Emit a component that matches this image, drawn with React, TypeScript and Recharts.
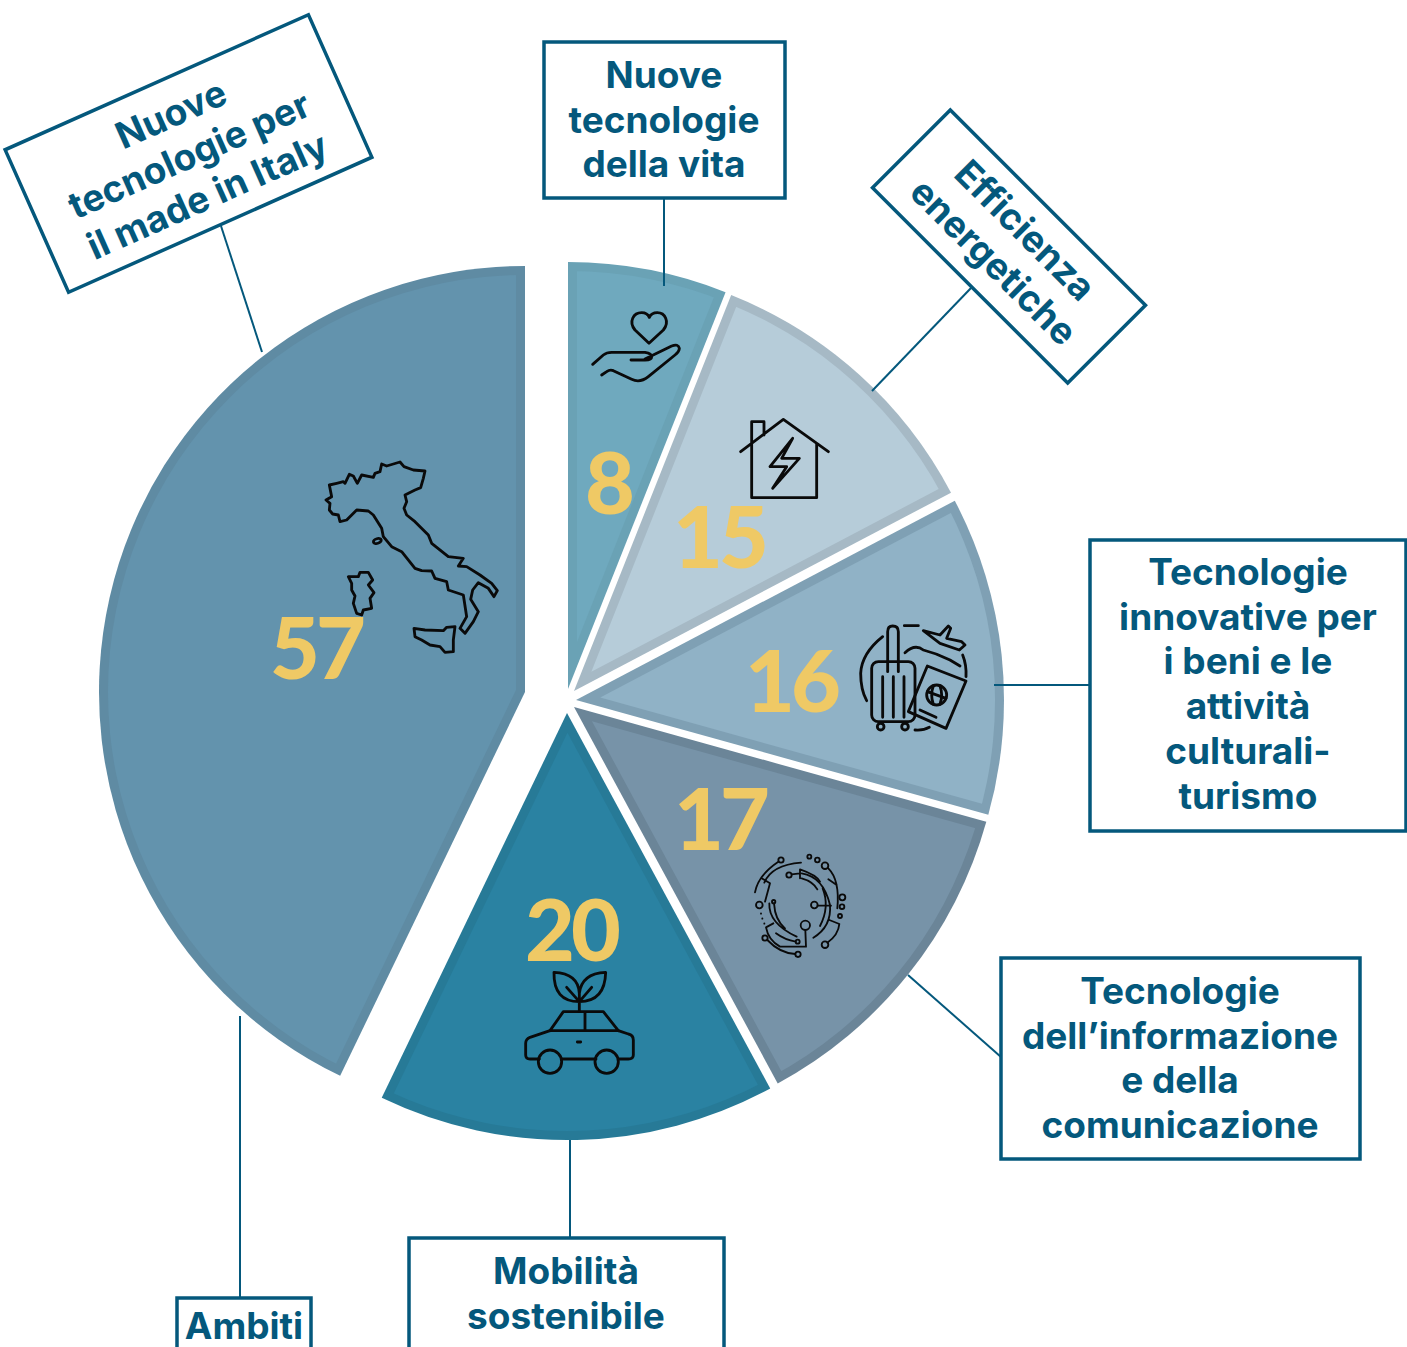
import { PieChart, Pie, Sector } from 'recharts'

const sliceNames = [
  'Nuove tecnologie della vita',
  'Efficienza energetiche',
  'Tecnologie innovative per i beni e le attività culturali-turismo',
  "Tecnologie dell’informazione e della comunicazione",
  'Mobilità sostenibile',
  'Nuove tecnologie per il made in Italy',
]
const sliceValues = [8, 15, 16, 17, 20, 57]
const sliceFills = ['#6FA9BE', '#B6CCD9', '#90B2C6', '#7793A8', '#2A82A2', '#6393AD']
const sliceEdges = ['#6AA2B5', '#A6B9C5', '#7FA0B4', '#6B8598', '#277A97', '#5F8BA3']

// exploded slices: where each one's apex sits and how big it is
const sliceCenters = [
  [568, 689],
  [574, 691],
  [576, 700],
  [574, 707],
  [567, 713],
  [525, 692],
]
const sliceRadius = [427, 426, 428, 428, 427, 426]
const valueSpots = [
  [608, 514],
  [719, 568],
  [791, 712],
  [720, 850],
  [571, 961],
  [316, 679],
]

const pieData = sliceNames.map((name, i) => ({
  name,
  value: sliceValues[i],
  fill: sliceFills[i],
}))

const INK = '#04587C'
const LABEL_FONT = 'Inter, sans-serif'
const BAND = 9

function SliceShape(props: any) {
  const i = sliceNames.indexOf(props.name)
  const [cx, cy] = sliceCenters[i]
  const R = sliceRadius[i]
  const half = (props.startAngle - props.endAngle) / 2
  const mid = ((props.startAngle + props.endAngle) / 2) * (Math.PI / 180)
  const inset = BAND / Math.sin((half * Math.PI) / 180)
  const clipId = `slice-clip-${i}`
  return (
    <g>
      <clipPath id={clipId}>
        <circle cx={cx} cy={cy} r={R - BAND} />
      </clipPath>
      <Sector {...props} cx={cx} cy={cy} outerRadius={R} fill={sliceEdges[i]} stroke="none" />
      <g clipPath={`url(#${clipId})`}>
        <Sector
          {...props}
          cx={cx + inset * Math.cos(mid)}
          cy={cy - inset * Math.sin(mid)}
          outerRadius={R}
          fill={sliceFills[i]}
          stroke="none"
        />
      </g>
    </g>
  )
}

function ValueLabel(props: any) {
  const i = sliceNames.indexOf(props.name)
  return (
    <text
      x={valueSpots[i][0]}
      y={valueSpots[i][1]}
      textAnchor="middle"
      fontFamily="Lato, sans-serif"
      fontWeight={900}
      fontSize={86}
      letterSpacing={-4}
      fill="#EFC965"
    >
      {sliceValues[i]}
    </text>
  )
}

function Lines({ lines, x, y, size = 37 }: { lines: string[]; x: number; y: number; size?: number }) {
  return (
    <text x={x} y={y} textAnchor="middle" fontFamily={LABEL_FONT} fontWeight={700} fontSize={size} fill={INK}>
      {lines.map((line, i) => (
        <tspan key={line} x={x} dy={i === 0 ? 0 : 44.7}>
          {line}
        </tspan>
      ))}
    </text>
  )
}

function Icon({ x, y, k = 1 / 3, w = 8.5, children }: any) {
  return (
    <g
      transform={`translate(${x},${y}) scale(${k})`}
      fill="none"
      stroke="#0A0A0A"
      strokeWidth={w}
      strokeLinecap="round"
      strokeLinejoin="round"
    >
      {children}
    </g>
  )
}

function ItalyIcon() {
  return (
    <Icon x={300} y={440}>
      <path d="M98,222 L88,210 L90,190 L78,180 L95,170 L88,135 L110,130 L130,125 L135,130 L148,103 L160,108 L172,130 L185,105 L220,112 L225,100 L240,95 L245,72 L260,78 L300,66 L312,80 L340,90 L375,93 L370,115 L362,143 L345,150 L315,165 L320,185 L312,205 L320,225 L345,245 L385,285 L395,310 L445,350 L490,355 L475,378 L500,380 L540,405 L575,430 L592,452 L582,470 L565,445 L535,428 L518,450 L512,478 L535,515 L520,545 L495,580 L480,565 L500,530 L490,465 L445,450 L440,425 L405,415 L395,393 L365,392 L345,385 L305,335 L275,320 L250,290 L245,265 L220,225 L205,213 L170,210 L140,240 L120,245 L115,225 Z" />
      <ellipse cx={232} cy={303} rx={12} ry={7} transform="rotate(-15 232 303)" />
      <path d="M145,410 L175,410 L180,397 L205,397 L218,420 L205,435 L222,458 L210,475 L215,505 L190,510 L185,525 L170,520 L160,490 L165,468 L155,450 L155,430 Z" />
      <path d="M342,565 L375,570 L430,572 L440,562 L465,560 L460,600 L460,635 L435,637 L420,620 L390,615 L365,600 L345,590 Z" />
    </Icon>
  )
}

function HandIcon() {
  return (
    <Icon x={570} y={260}>
      <path d="M237,250 L195,210 C175,185 190,158 215,158 C228,158 235,165 238,172 C241,165 250,158 262,158 C285,158 300,185 280,210 Z" />
      <path d="M68,313 L100,285 Q110,277 125,277 L225,277 Q245,280 245,290 Q245,300 225,300 L183,300 M225,297 L305,258 Q325,250 328,265 Q328,275 315,285 L235,350 Q210,370 185,358 L130,332 Q120,328 110,335 L95,345" />
    </Icon>
  )
}

function HouseIcon() {
  return (
    <Icon x={570} y={260}>
      <path d="M512,575 L640,478 L775,575 M545,545 V485 H582 V525 M545,545 V713 H740 V550" />
      <path d="M668,535 L600,620 L650,620 L608,685 L688,595 L635,595 Z" />
    </Icon>
  )
}

function TravelIcon() {
  return (
    <Icon x={840} y={610}>
      <rect x={95} y={155} width={130} height={180} rx={20} />
      <path d="M143,185 V65 Q143,48 158,48 Q175,48 175,65 V185 M128,200 V322 M160,200 V322 M192,200 V322" />
      <circle cx={122} cy={350} r={10} />
      <circle cx={195} cy={350} r={10} />
      <path d="M128,80 Q65,130 62,190 Q62,240 80,272 M193,47 L235,47" />
      <path d="M250,62 L300,75 L325,48 L332,55 L320,85 L365,95 L375,105 L358,120 L300,100 Z" />
      <path d="M195,128 Q225,100 250,120 Q290,130 330,150 L360,168 M368,135 Q380,165 378,200" />
      <path d="M262,168 L378,213 L318,355 L205,305 Z" />
      <circle cx={290} cy={255} r={30} />
      <path d="M262,245 L318,265 M280,228 Q270,255 280,283 M300,228 Q310,255 300,283 M240,300 L288,322 M225,360 Q250,362 268,352" />
    </Icon>
  )
}

function CircuitIcon() {
  const dots = [
    [153, 60, 8], [88, 195, 10], [177, 105, 8], [253, 195, 10], [285, 77, 10], [262, 60, 7],
    [238, 50, 6], [337, 172, 9], [336, 200, 7], [330, 228, 6], [285, 314, 10], [226, 256, 14],
    [203, 305, 6], [131, 185, 5], [105, 294, 8], [204, 343, 8],
  ]
  return (
    <Icon x={730} y={840} w={5.5}>
      <path d="M75,157 Q85,105 145,65 M95,115 L120,130 L105,185 M103,128 Q125,75 213,68" />
      <path d="M185,103 L210,100 M210,88 V115 M210,88 Q260,105 270,125 M215,115 Q250,125 262,148" />
      <path d="M215,100 Q280,110 300,195 Q305,260 250,293 M278,145 Q300,200 270,258 M263,197 L303,197" />
      <path d="M295,118 L320,135 M295,85 Q330,120 322,205 M298,240 L328,252 Q325,285 292,308" />
      <path d="M226,270 L228,320 L150,320 Q115,300 108,262 L130,250" />
      <path d="M118,190 Q115,250 200,290 M132,190 Q135,240 165,265 M138,280 Q165,300 197,305 M112,300 Q150,340 196,342" />
      <path d="M93,220 L93,221 M97,235 L97,236 M103,250 L103,251" />
      {dots.map(([cx, cy, r]) => (
        <circle key={`${cx}-${cy}`} cx={cx} cy={cy} r={r} />
      ))}
    </Icon>
  )
}

function CarIcon() {
  return (
    <Icon x={510} y={960}>
      <path d="M120,212 L160,155 L280,155 L325,212 M120,212 L325,212 M225,155 V212" />
      <path d="M120,212 L60,232 Q47,238 47,250 V285 Q47,297 60,297 H88 M155,297 H258 M325,297 H355 Q370,297 370,285 V240 Q370,225 355,222 L325,212" />
      <circle cx={120} cy={305} r={35} />
      <circle cx={290} cy={305} r={35} />
      <path d="M202,246 L212,246" />
      <path d="M208,155 V100 M208,125 Q130,125 132,37 Q205,40 208,100 M208,125 Q285,125 287,37 Q215,40 208,100 M170,82 L208,125 M245,82 L208,125" />
    </Icon>
  )
}

const boxStyle = { fill: '#FFFFFF', stroke: INK, strokeWidth: 3.5 }
const leaderStyle = { stroke: INK, strokeWidth: 2 }

export default function App() {
  return (
    <div style={{ position: 'absolute', left: 0, top: 0, width: 1407, height: 1347, overflow: 'hidden' }}>
      <PieChart width={1407} height={1347} margin={{ top: 0, right: 0, bottom: 0, left: 0 }}>
        <Pie
          data={pieData}
          dataKey="value"
          nameKey="name"
          cx={570}
          cy={700}
          innerRadius={0}
          outerRadius={425}
          startAngle={90}
          endAngle={-270}
          shape={SliceShape}
          label={ValueLabel}
          labelLine={false}
          isAnimationActive={false}
        />
      </PieChart>

      {/* the chart paints its sectors last, so callouts and icons get their own layer on top */}
      <svg width={1407} height={1347} style={{ position: 'absolute', left: 0, top: 0 }}>
        {/* leader lines */}
        <line x1={664} y1={198} x2={664} y2={286} {...leaderStyle} />
        <line x1={971} y1={288} x2={872} y2={391} {...leaderStyle} />
        <line x1={221} y1={226} x2={262} y2={352} {...leaderStyle} />
        <line x1={994} y1={685} x2={1090} y2={685} {...leaderStyle} />
        <line x1={908} y1={975} x2={1001} y2={1057} {...leaderStyle} />
        <line x1={570} y1={1140} x2={570} y2={1238} {...leaderStyle} />
        <line x1={240} y1={1016} x2={240} y2={1298} {...leaderStyle} />

        {/* boxes */}
        <g transform="translate(188.5,153.5) rotate(-24)">
          <rect x={-166} y={-78} width={332} height={156} {...boxStyle} />
          <Lines lines={['Nuove', 'tecnologie per', 'il made in Italy']} x={0} y={-30} />
        </g>
        <rect x={544} y={42} width={241} height={156} {...boxStyle} />
        <Lines lines={['Nuove', 'tecnologie', 'della vita']} x={664} y={88} />
        <g transform="translate(1009,246.5) rotate(45)">
          <rect x={-138} y={-55} width={276} height={110} {...boxStyle} />
          <Lines lines={['Efficienza', 'energetiche']} x={0} y={-10} />
        </g>
        <rect x={1090} y={540} width={316} height={291} {...boxStyle} />
        <Lines
          lines={['Tecnologie', 'innovative per', 'i beni e le', 'attività', 'culturali-', 'turismo']}
          x={1248}
          y={585}
        />
        <rect x={1001} y={958} width={359} height={201} {...boxStyle} />
        <Lines lines={['Tecnologie', 'dell’informazione', 'e della', 'comunicazione']} x={1180} y={1004} />
        <rect x={409} y={1238} width={315} height={130} {...boxStyle} />
        <Lines lines={['Mobilità', 'sostenibile']} x={566} y={1284} />
        <rect x={177} y={1298} width={134} height={70} {...boxStyle} />
        <Lines lines={['Ambiti']} x={244} y={1339} />

        {/* icons */}
        <ItalyIcon />
        <HandIcon />
        <HouseIcon />
        <TravelIcon />
        <CircuitIcon />
        <CarIcon />
      </svg>
    </div>
  )
}
